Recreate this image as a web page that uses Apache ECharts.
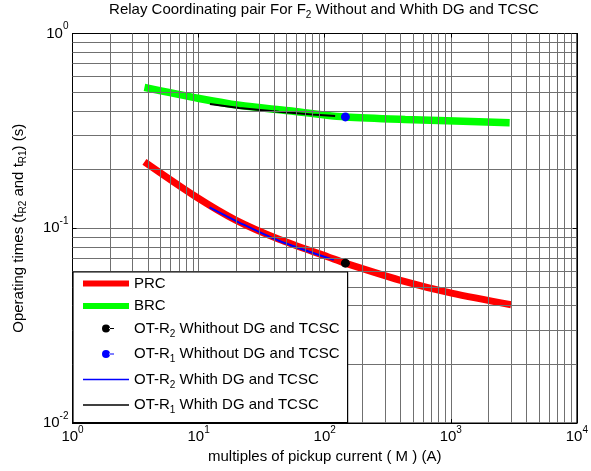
<!DOCTYPE html>
<html>
<head>
<meta charset="utf-8">
<script src="https://cdn.jsdelivr.net/npm/echarts@6/dist/echarts.min.js"></script>
<style>
html,body{margin:0;padding:0;background:#fff;}
#c{width:591px;height:471px;}
</style>
</head>
<body>
<div id="c"></div>
<script>
// ---- data ----
var prcM = [3.72, 9.53, 19.7, 43.4, 108, 146, 435, 1015, 3010];
var prcT = [0.219, 0.145, 0.110, 0.0877, 0.0710, 0.0662, 0.0532, 0.0464, 0.0405];
var brcM = [3.72, 10.1, 21, 52, 101, 146, 435, 1082, 2930];
var brcT = [0.529, 0.464, 0.428, 0.401, 0.381, 0.373, 0.362, 0.355, 0.348];
var r2WithM = [12.2, 21, 43.3, 118];
var r2WithT = [0.128, 0.107, 0.0863, 0.0688];
var r1WithM = [12.3, 21, 43.3, 79.8, 121];
var r1WithT = [0.434, 0.414, 0.396, 0.384, 0.377];
var r2WithoutM = [146];
var r2WithoutT = [0.0662];
var r1WithoutM = [146];
var r1WithoutT = [0.373];
var xTickExps = [0, 1, 2, 3, 4];
var yTickExps = [-2, -1, 0];
var xMajorTicks = [1, 10, 100, 1000, 10000];
var yMajorTicks = [0.01, 0.1, 1];
var xMinorTicks = [2,3,4,5,6,7,8,9,20,30,40,50,60,70,80,90,200,300,400,500,600,700,800,900,2000,3000,4000,5000,6000,7000,8000,9000];
var yMinorTicks = [0.02,0.03,0.04,0.05,0.06,0.07,0.08,0.09,0.2,0.3,0.4,0.5,0.6,0.7,0.8,0.9];

function zip(a, b) { return a.map(function (v, i) { return [v, b[i]]; }); }

var FONT = 'Liberation Sans, Arial, sans-serif';
var gridColor = '#707070';
var FS = 15, SS = 10;

function expLabel(v, exps) {
  var e = Math.round(Math.log10(v));
  if (exps.indexOf(e) < 0) return '';
  return '{b|10}{s|' + e + '}';
}
var labelRich = {
  b: { fontSize: FS, fontFamily: FONT, color: '#000', lineHeight: 24 },
  s: { fontSize: SS, fontFamily: FONT, color: '#000', lineHeight: 10, verticalAlign: 'top' }
};
var subRich = function (lh) {
  return {
    t: { fontSize: FS, fontFamily: FONT, fontWeight: 'normal', color: '#000', lineHeight: lh },
    s: { fontSize: SS, fontFamily: FONT, fontWeight: 'normal', color: '#000', lineHeight: 10, verticalAlign: 'bottom' }
  };
};

var legendNames = {
  'PRC': '{p|PRC}',
  'BRC': '{p|BRC}',
  'OT-R2 Whithout DG and TCSC': '{n|OT-R}{s|2}{n| Whithout DG and TCSC}',
  'OT-R1 Whithout DG and TCSC': '{n|OT-R}{s|1}{n| Whithout DG and TCSC}',
  'OT-R2 Whith DG and TCSC': '{n|OT-R}{s|2}{n| Whith DG and TCSC}',
  'OT-R1 Whith DG and TCSC': '{n|OT-R}{s|1}{n| Whith DG and TCSC}'
};
var thickIcon = 'path://M0,0H46V6H0Z';
var thinIcon = 'path://M0,0H46V1.6H0Z';
var dotIcon = 'path://M-4,4H-3.99V4.01H-4Z M0,4a4,4 0 1,0 8,0a4,4 0 1,0 -8,0Z M7,3.4H12V4.6H7Z';

function tickAxis(kind, pos, minv, maxv, values, len, showLine) {
  return {
    type: 'log', logBase: 10, min: minv, max: maxv, position: pos,
    axisLine: { show: showLine, lineStyle: { color: '#000', width: 1 } },
    axisTick: { show: true, inside: true, length: len, customValues: values, lineStyle: { color: '#000' } },
    axisLabel: { show: false }, splitLine: { show: false }
  };
}

var chart = echarts.init(document.getElementById('c'), null, { renderer: 'canvas' });
chart.setOption({
  animation: false,
  backgroundColor: '#fff',
  textStyle: { fontFamily: FONT },
  title: {
    text: '{t|Relay Coordinating pair For F}{s|2}{t| Without and Whith DG and TCSC}',
    left: 324, top: 0, textAlign: 'center', padding: 0,
    textStyle: { fontWeight: 'normal', rich: subRich(20) }
  },
  grid: { left: 72.5, right: 12, top: 33.5, bottom: 48, show: true, borderColor: '#000', borderWidth: 1, backgroundColor: 'transparent' },
  legend: {
    orient: 'vertical', left: 73, top: 272, z: 100,
    padding: [4, 8, 7, 10], itemGap: 7.5,
    itemWidth: 46, itemHeight: 8,
    backgroundColor: '#ffffff', borderColor: '#000', borderWidth: 1.2,
    selectedMode: false,
    data: [
      { name: 'PRC', icon: thickIcon },
      { name: 'BRC', icon: thickIcon },
      { name: 'OT-R2 Whithout DG and TCSC', icon: dotIcon },
      { name: 'OT-R1 Whithout DG and TCSC', icon: dotIcon },
      { name: 'OT-R2 Whith DG and TCSC', icon: thinIcon },
      { name: 'OT-R1 Whith DG and TCSC', icon: thinIcon }
    ],
    formatter: function (name) { return legendNames[name] || name; },
    textStyle: {
      rich: {
        p: { fontSize: FS, fontFamily: FONT, color: '#000', lineHeight: 17 },
        n: { fontSize: FS, fontFamily: FONT, color: '#000', lineHeight: 21 },
        s: { fontSize: SS, fontFamily: FONT, color: '#000', lineHeight: 10, verticalAlign: 'bottom' }
      }
    }
  },
  xAxis: [
    {
      type: 'log', logBase: 10, min: 1, max: 10000, position: 'bottom',
      name: 'multiples of pickup current ( M ) (A)',
      nameLocation: 'middle', nameGap: 26,
      nameTextStyle: { fontSize: FS, fontFamily: FONT, color: '#000' },
      axisLine: { show: true, lineStyle: { color: '#000', width: 1 } },
      axisTick: { show: true, inside: true, length: 4, lineStyle: { color: '#000' } },
      axisLabel: { margin: 2, formatter: function (v) { return expLabel(v, xTickExps); }, rich: labelRich },
      splitLine: { show: true, lineStyle: { color: gridColor, width: 1 } }
    },
    tickAxis('x', 'top', 1, 10000, xMajorTicks, 4, true),
    tickAxis('x', 'top', 1, 10000, xMinorTicks, 2.5, false),
    tickAxis('x', 'bottom', 1, 10000, xMinorTicks, 2.5, false)
  ],
  yAxis: [
    {
      type: 'log', logBase: 10, min: 0.01, max: 1, position: 'left',
      name: '{t|Operating times (t}{s|R2}{t| and t}{s|R1}{t|) (s)}',
      nameLocation: 'middle', nameGap: 44, nameRotate: 90,
      nameTextStyle: { rich: subRich(20) },
      axisLine: { show: true, lineStyle: { color: '#000', width: 1 } },
      axisTick: { show: true, inside: true, length: 4, lineStyle: { color: '#000' } },
      axisLabel: { margin: 4, formatter: function (v) { return expLabel(v, yTickExps); }, rich: labelRich },
      splitLine: { show: true, lineStyle: { color: gridColor, width: 1 } }
    },
    tickAxis('y', 'right', 0.01, 1, yMajorTicks, 4, true),
    tickAxis('y', 'right', 0.01, 1, yMinorTicks, 2.5, false),
    tickAxis('y', 'left', 0.01, 1, yMinorTicks, 2.5, false)
  ],
  series: [
    {
      name: 'minor-grid', type: 'line', data: [], z: 1, silent: true,
      markLine: {
        silent: true, symbol: ['none', 'none'], animation: false,
        label: { show: false },
        lineStyle: { color: gridColor, width: 1, type: 'solid' },
        emphasis: { disabled: true },
        data: xMinorTicks.map(function (v) { return { xAxis: v }; })
          .concat(yMinorTicks.map(function (v) { return { yAxis: v }; }))
      }
    },
    {
      name: 'PRC', type: 'line', data: zip(prcM, prcT), smooth: 0.3, showSymbol: false, z: 3,
      color: '#ff0000', lineStyle: { color: '#ff0000', width: 7 }
    },
    {
      name: 'BRC', type: 'line', data: zip(brcM, brcT), smooth: 0.3, showSymbol: false, z: 3,
      color: '#00ff00', lineStyle: { color: '#00ff00', width: 7.5 }
    },
    {
      name: 'OT-R2 Whith DG and TCSC', type: 'line', data: zip(r2WithM, r2WithT), smooth: 0.3, showSymbol: false, z: 4,
      color: '#0000ff', lineStyle: { color: '#0000ff', width: 2 }
    },
    {
      name: 'OT-R1 Whith DG and TCSC', type: 'line', data: zip(r1WithM, r1WithT), showSymbol: false, z: 4,
      color: '#000000', lineStyle: { color: '#000000', width: 2 }
    },
    {
      name: 'OT-R2 Whithout DG and TCSC', type: 'line', data: zip(r2WithoutM, r2WithoutT), z: 5,
      symbol: 'circle', symbolSize: 9, showSymbol: true,
      color: '#000000', itemStyle: { color: '#000000' }, lineStyle: { width: 1 }
    },
    {
      name: 'OT-R1 Whithout DG and TCSC', type: 'line', data: zip(r1WithoutM, r1WithoutT), z: 5,
      symbol: 'circle', symbolSize: 9, showSymbol: true,
      color: '#0000ff', itemStyle: { color: '#0000ff' }, lineStyle: { width: 1 }
    }
  ]
});
</script>
</body>
</html>
